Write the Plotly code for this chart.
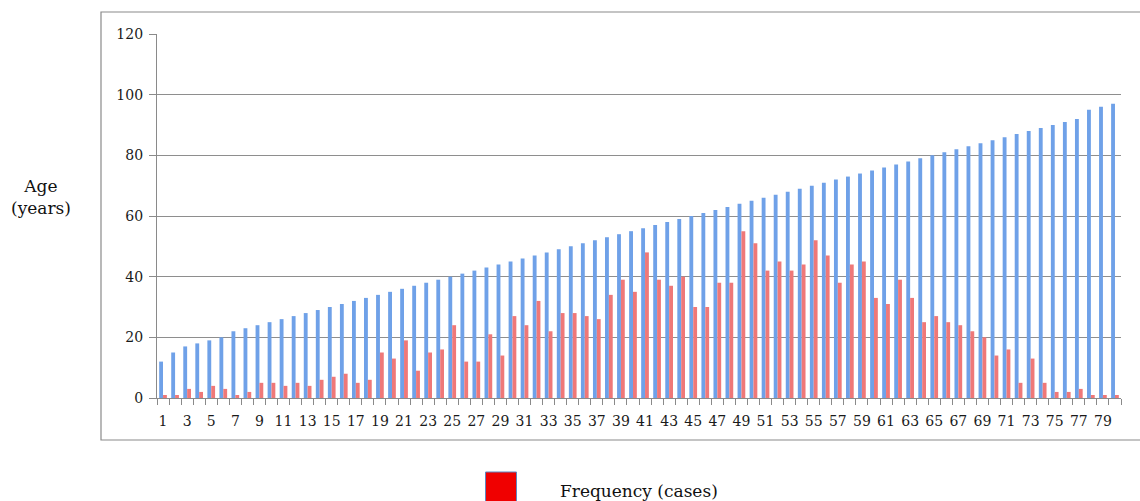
import plotly.graph_objects as go

categories = list(range(1, 81))
age_values = [12, 15, 17, 18, 19, 20, 22, 23, 24, 25,
              26, 27, 28, 29, 30, 31, 32, 33, 34, 35,
              36, 37, 38, 39, 40, 41, 42, 43, 44, 45,
              46, 47, 48, 49, 50, 51, 52, 53, 54, 55,
              56, 57, 58, 59, 60, 61, 62, 63, 64, 65,
              66, 67, 68, 69, 70, 71, 72, 73, 74, 75,
              76, 77, 78, 79, 80, 81, 82, 83, 84, 85,
              86, 87, 88, 89, 90, 91, 92, 95, 96, 97]
frequency_values = [1, 1, 3, 2, 4, 3, 1, 2, 5, 5,
                    4, 5, 4, 6, 7, 8, 5, 6, 15, 13,
                    19, 9, 15, 16, 24, 12, 12, 21, 14, 27,
                    24, 32, 22, 28, 28, 27, 26, 34, 39, 35,
                    48, 39, 37, 40, 30, 30, 38, 38, 55, 51,
                    42, 45, 42, 44, 52, 47, 38, 44, 45, 33,
                    31, 39, 33, 25, 27, 25, 24, 22, 20, 14,
                    16, 5, 13, 5, 2, 2, 3, 1, 1, 1]
x_tick_vals = [c for c in categories if c % 2 == 1]
x_tick_labels = [str(c) for c in x_tick_vals]
y_ticks = [0, 20, 40, 60, 80, 100, 120]
age_name = "Age (years)"
freq_name = "Frequency (cases)"

W, H = 1140, 501
L, R, T, B = 157, 1121, 34, 398

def px(x):
    return (x - L) / (R - L)

def py(y):
    return (B - y) / (B - T)

FONT = "DejaVu Serif"
GRAY = "#8a8a8a"

fig = go.Figure()
fig.add_trace(go.Bar(x=categories, y=age_values, name=age_name,
                     marker=dict(color="#6fa1e8", line=dict(width=0)),
                     showlegend=False))
fig.add_trace(go.Bar(x=categories, y=frequency_values, name=freq_name,
                     marker=dict(color="#ef7878", line=dict(width=0)),
                     showlegend=False))

fig.update_layout(
    width=W, height=H,
    margin=dict(l=L, r=W - R, t=T, b=H - B),
    paper_bgcolor="white", plot_bgcolor="white",
    barmode="group", bargap=0.36, bargroupgap=0.0,
    font=dict(family=FONT, size=14, color="#1a1a1a"),
    showlegend=False,
    xaxis=dict(range=[0.5, 80.5], tickmode="array",
               tickvals=x_tick_vals, ticktext=x_tick_labels,
               ticks="outside", ticklen=6, tickcolor="rgba(0,0,0,0)",
               ticklabelstandoff=4,
               showgrid=False,
               showline=True, linecolor=GRAY, linewidth=1.3,
               tickfont=dict(size=14, family=FONT, color="#1a1a1a"),
               minor=dict(tickmode="linear", tick0=0.5, dtick=1,
                          ticks="outside", ticklen=6, tickwidth=1,
                          tickcolor=GRAY, showgrid=False),
               zeroline=False),
    yaxis=dict(range=[0, 120], tickmode="array", tickvals=y_ticks,
               ticks="outside", ticklen=7, tickcolor=GRAY,
               ticklabelstandoff=3,
               showline=True, linecolor=GRAY, linewidth=1.3,
               gridcolor="#8e8e8e", gridwidth=1.4, zeroline=False,
               tickfont=dict(size=14, family=FONT, color="#1a1a1a")),
)

# outer chart frame
fig.add_shape(type="rect", xref="paper", yref="paper",
              x0=px(101), x1=px(1150), y0=py(440), y1=py(12),
              line=dict(color=GRAY, width=1.2), layer="below")

# y-axis title (horizontal)
fig.add_annotation(xref="paper", yref="paper", x=px(41), y=py(197),
                   text="Age<br>(years)", showarrow=False,
                   xanchor="center", yanchor="middle",
                   font=dict(size=17, family=FONT, color="#111111"))

# legend entry
fig.add_shape(type="rect", xref="paper", yref="paper",
              x0=px(485.5), x1=px(516.5), y0=py(506), y1=py(472),
              fillcolor="#f00000", line=dict(color="#5f86c0", width=1))
fig.add_annotation(xref="paper", yref="paper", x=px(558), y=py(491),
                   text=freq_name, showarrow=False,
                   xanchor="left", yanchor="middle",
                   font=dict(size=17, family=FONT, color="#111111"))

fig.write_html("out.html", config={"displayModeBar": False},
               post_script="document.body.style.margin='0';document.body.style.overflow='hidden';")
